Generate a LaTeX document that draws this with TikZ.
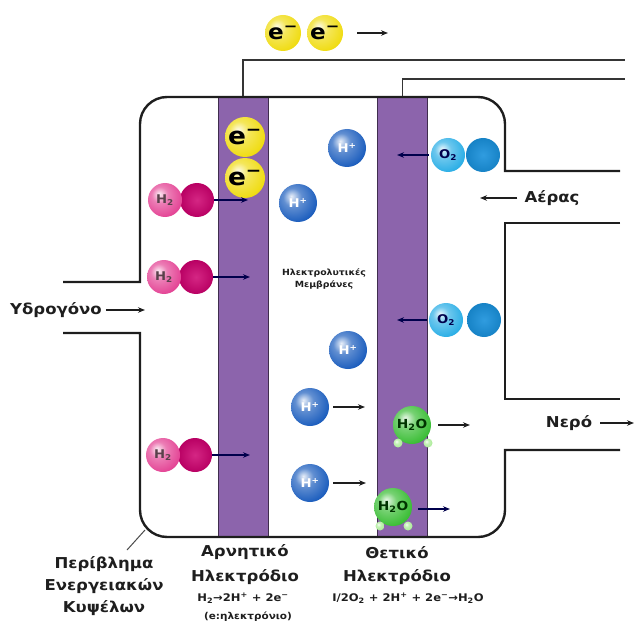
\documentclass[tikz,border=0pt]{standalone}
\usepackage{fontspec}
\setmainfont{DejaVu Sans}
\newfontfamily\lbl[FakeStretch=1.1]{DejaVu Sans}
\usetikzlibrary{arrows.meta}

% brighter ball shading: white highlight, saturated body, slightly darker rim
\makeatletter
\pgfdeclareradialshading[tikz@ball]{ball}{\pgfqpoint{-9bp}{9bp}}{%
  color(0bp)=(tikz@ball!10!white);
  color(12bp)=(tikz@ball!70!white);
  color(30bp)=(tikz@ball);
  color(48bp)=(tikz@ball!80!black);
  color(70bp)=(tikz@ball!55!black)}
\makeatother

\definecolor{memb}{RGB}{140,100,172}
\definecolor{eyel}{RGB}{240,220,20}
\definecolor{hplus}{RGB}{30,95,190}
\definecolor{magL}{RGB}{228,70,150}
\definecolor{magD}{RGB}{205,0,110}
\definecolor{oxL}{RGB}{45,175,230}
\definecolor{oxD}{RGB}{25,145,220}
\definecolor{wat}{RGB}{60,190,55}
\definecolor{watS}{RGB}{170,235,150}
\definecolor{ink}{RGB}{30,30,30}

\begin{document}
\begin{tikzpicture}[x=1pt,y=-1pt,
  wall/.style={line width=2.4pt,draw=ink},
  wire/.style={line width=1.8pt,draw=ink!90},
  electrode/.style={draw=memb!45!black,fill=memb,line width=0.8pt,
    minimum width=50pt,minimum height=440pt,inner sep=0pt},
  arr/.style={line width=1.1pt,draw=ink,-{Stealth[length=7pt,width=5.5pt]}},
  marr/.style={arr,draw=black!70!blue},
  ball/.style={circle,inner sep=0pt,shade},
  elec/.style={ball,ball color=eyel,minimum size=#1,text=black,
    font=\lbl\bfseries\fontsize{21}{21}\selectfont},
  hyd/.style={ball,ball color=magL,minimum size=34pt,text=black!75!magenta,
    font=\lbl\bfseries\fontsize{12}{12}\selectfont},
  hydback/.style={circle,inner sep=0pt,minimum size=34pt,
    inner color=magD!85!white,outer color=magD!90!black},
  proton/.style={ball,ball color=hplus,minimum size=38pt,text=white,
    font=\lbl\bfseries\fontsize{12}{12}\selectfont},
  oxy/.style={ball,ball color=oxL,minimum size=34pt,text=black!70!blue,
    font=\lbl\bfseries\fontsize{12}{12}\selectfont},
  oxyback/.style={circle,inner sep=0pt,minimum size=34pt,
    inner color=oxD!90!white,outer color=oxD!90!black},
  water/.style={ball,ball color=wat,minimum size=38pt,text=black!80!green,
    font=\lbl\bfseries\fontsize{12.5}{12}\selectfont},
  hsmall/.style={ball,ball color=watS,minimum size=9pt},
  txt/.style={inner sep=2pt,text=ink,font=\lbl\bfseries\fontsize{15}{22}\selectfont,align=center},
  small/.style={inner sep=1pt,text=ink,font=\lbl\bfseries\fontsize{10.5}{12}\selectfont},
  tiny/.style={inner sep=1pt,text=ink,font=\lbl\bfseries\fontsize{8.5}{12}\selectfont,align=center}
]
\useasboundingbox (0,0) rectangle (636,628);

% electrodes
\node[electrode] (anode) at (243,317) {};
\node[electrode] (cathode) at (402.5,317) {};

% external circuit
\coordinate (wireA) at (625,60);
\coordinate (wireC) at (625,79);
\draw[wire] (anode.north) |- (wireA);
\draw[wire] (cathode.north) |- (wireC);

% cell housing with inlets and outlets
\draw[wall] (63,282) -- (140,282) -- (140,124)
  .. controls (140,109.1) and (152.1,97) .. (167,97) -- (478,97)
  .. controls (492.9,97) and (505,109.1) .. (505,124) -- (505,171) -- (620,171);
\draw[wall] (620,223) -- (505,223) -- (505,399) -- (620,399);
\draw[wall] (620,450) -- (505,450) -- (505,510)
  .. controls (505,524.9) and (492.9,537) .. (478,537) -- (167,537)
  .. controls (152.1,537) and (140,524.9) .. (140,510) -- (140,333) -- (63,333);

% electrons in the external circuit
\node[elec=36pt] (eo1) at (283,33) {e\textsuperscript{−}};
\node[elec=36pt] (eo2) at (325,33) {e\textsuperscript{−}};
\coordinate (eoTip) at (388,33);
\draw[arr] ([xshift=14pt]eo2.east) -- (eoTip);

% electrons in the anode
\node[elec=40pt,font=\lbl\bfseries\fontsize{24}{24}\selectfont] (ea1) at (245,137) {e\textsuperscript{−}};
\node[elec=40pt,font=\lbl\bfseries\fontsize{24}{24}\selectfont] (ea2) at (245,178) {e\textsuperscript{−}};

% hydrogen molecules
\node[hydback] (h2aB) at (197,200) {};
\node[hyd] (h2a) at (165,200) {H\textsubscript{2}};
\node[hydback] (h2bB) at (196,277) {};
\node[hyd] (h2b) at (164,277) {H\textsubscript{2}};
\node[hydback] (h2cB) at (195,455) {};
\node[hyd] (h2c) at (163,455) {H\textsubscript{2}};
\coordinate (h2aTip) at (248,200);
\coordinate (h2bTip) at (250,277);
\coordinate (h2cTip) at (250,455);
\draw[marr] (h2aB.east) -- (h2aTip);
\draw[marr] (h2bB.east) -- (h2bTip);
\draw[marr] (h2cB.east) -- (h2cTip);

% protons
\node[proton] (p1) at (347,148) {H\textsuperscript{+}};
\node[proton] (p2) at (298,203) {H\textsuperscript{+}};
\node[proton] (p3) at (348,350) {H\textsuperscript{+}};
\node[proton] (p4) at (310,407) {H\textsuperscript{+}};
\node[proton] (p5) at (310,483) {H\textsuperscript{+}};
\coordinate (p4Tip) at (365,407);
\coordinate (p5Tip) at (366,483);
\draw[arr] ([xshift=4pt]p4.east) -- (p4Tip);
\draw[arr] ([xshift=4pt]p5.east) -- (p5Tip);

\node[tiny] (mlabel) at (324,279) {Ηλεκτρολυτικές\\Μεμβράνες};

% oxygen molecules
\node[oxyback] (o2aB) at (483,155) {};
\node[oxy] (o2a) at (448,155) {O\textsubscript{2}};
\node[oxyback] (o2bB) at (484,320) {};
\node[oxy] (o2b) at (446,320) {O\textsubscript{2}};
\coordinate (o2aTip) at (397,155);
\coordinate (o2bTip) at (397,320);
\draw[marr] ([xshift=-2pt]o2a.west) -- (o2aTip);
\draw[marr] ([xshift=-2pt]o2b.west) -- (o2bTip);

% water molecules
\node[water] (w1) at (412,425) {H\textsubscript{2}O};
\node[hsmall] (w1l) at (398,443) {};
\node[hsmall] (w1r) at (428,443) {};
\node[water] (w2) at (393,507) {H\textsubscript{2}O};
\node[hsmall] (w2l) at (380,526) {};
\node[hsmall] (w2r) at (408,526) {};
\coordinate (w1Tip) at (470,425);
\coordinate (w2Tip) at (450,509);
\draw[arr] ([xshift=7pt]w1.east) -- (w1Tip);
\draw[marr] ([xshift=6pt,yshift=-2pt]w2.east) -- (w2Tip);

% flow labels
\node[txt] (hydIn) at (56,310) {Υδρογόνο};
\coordinate (hydTip) at (145,310);
\draw[arr] ([xshift=2pt]hydIn.east) -- (hydTip);

\node[txt] (airIn) at (552,198) {Αέρας};
\coordinate (airTip) at (480,198);
\draw[arr] ([xshift=-5pt]airIn.west) -- (airTip);

\node[txt] (waterOut) at (569,423) {Νερό};
\coordinate (waterTip) at (634,423);
\draw[arr] ([xshift=6pt]waterOut.east) -- (waterTip);

% bottom captions
\node[txt] (casing) at (104,586) {Περίβλημα\\Ενεργειακών\\Κυψέλων};
\coordinate (leadA) at (145,530);
\coordinate (leadB) at (127,550);
\draw[line width=1pt,draw=ink!80] (leadA) -- (leadB);

\node[txt] (negA) at (245,552) {Αρνητικό};
\node[txt] (negB) at (245,577) {Ηλεκτρόδιο};
\node[small] (negC) at (243,598) {H\textsubscript{2}→2H\textsuperscript{+} + 2e\textsuperscript{−}};
\node[small,font=\lbl\bfseries\fontsize{9.5}{12}\selectfont] (negD) at (248,617) {(e:ηλεκτρόνιο)};

\node[txt] (posA) at (397,553) {Θετικό};
\node[txt] (posB) at (397,577) {Ηλεκτρόδιο};
\node[small] (posC) at (408,598) {I/2O\textsubscript{2} + 2H\textsuperscript{+} + 2e\textsuperscript{−}→H\textsubscript{2}O};
\end{tikzpicture}
\end{document}
